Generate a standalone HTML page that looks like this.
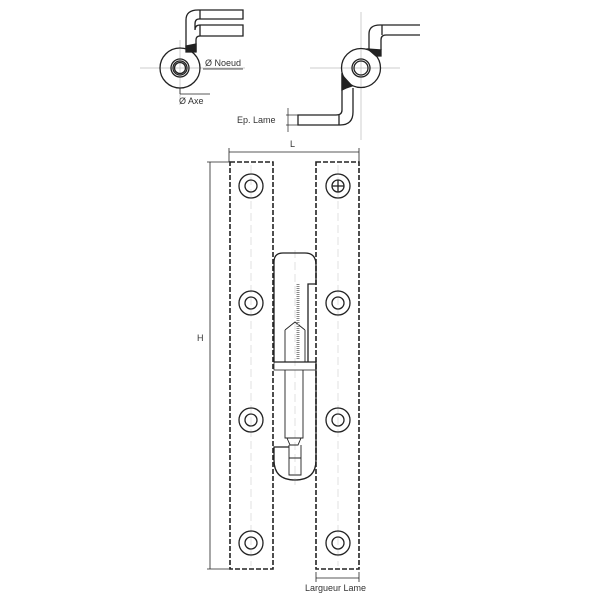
<!DOCTYPE html>
<html><head><style>body{margin:0;background:#fff}svg{display:block}text{font-family:"Liberation Sans",sans-serif;fill:#333}</style></head>
<body>
<svg width="600" height="600" viewBox="0 0 600 600" xmlns="http://www.w3.org/2000/svg">
<g fill="none" stroke="#222" stroke-width="1.3">
<!-- left top view -->
<line x1="140" y1="68" x2="245" y2="68" stroke="#bbb" stroke-width="0.7"/>
<line x1="180" y1="40" x2="180" y2="100" stroke="#bbb" stroke-width="0.7"/>
<circle cx="180" cy="68" r="20"/>
<circle cx="180" cy="68" r="9"/>
<circle cx="180" cy="68" r="7"/>
<circle cx="180" cy="68" r="5.5"/>
<path d="M186 48 L186 20 Q186 10 198 10 L243 10 L243 19 L199 19 Q195 19 195 24 L195 30 Q195 25 200 25 L243 25 L243 36 L200 36 Q196 36 196 40 L196 52"/>
<path d="M186 46 L186 52 L196 52 L196 44 Z" fill="#222"/>
<line x1="200" y1="10" x2="200" y2="19"/><line x1="200" y1="25" x2="200" y2="36"/>
<line x1="203" y1="69" x2="243" y2="69" stroke-width="0.8"/>
<line x1="180" y1="88" x2="180" y2="94" stroke-width="0.8"/>
<line x1="180" y1="94" x2="210" y2="94" stroke-width="0.8"/>
<!-- right top view -->
<line x1="310" y1="68" x2="400" y2="68" stroke="#bbb" stroke-width="0.7"/>
<line x1="361" y1="12" x2="361" y2="140" stroke="#bbb" stroke-width="0.7"/>
<circle cx="361" cy="68" r="19.5"/>
<circle cx="361" cy="68" r="9"/>
<circle cx="361" cy="68" r="7"/>
<path d="M369 50 L369 34 Q369 25 380 25 L420 25 M381 50 L381 40 Q381 35 386 35 L420 35 M382 25 L382 35"/>
<path d="M368 49 L381 50 L381 56 L376 56 Z" fill="#222"/>
<path d="M342 73 L342 110 Q342 115 336 115 L298 115 L298 125 L340 125 Q353 125 353 112 L353 88"/>
<path d="M342 75 L342 90 L346 88 L352 86 Z" fill="#222"/>
<line x1="339" y1="115" x2="339" y2="125"/>
<line x1="286" y1="115" x2="298" y2="115" stroke-width="0.7"/>
<line x1="286" y1="125" x2="298" y2="125" stroke-width="0.7"/>
<line x1="288" y1="108" x2="288" y2="132" stroke-width="0.7"/>
<!-- dimensions -->
<line x1="229" y1="148" x2="229" y2="162" stroke-width="0.8"/>
<line x1="359" y1="148" x2="359" y2="162" stroke-width="0.8"/>
<line x1="229" y1="152" x2="359" y2="152" stroke-width="0.8"/>
<line x1="207" y1="162" x2="230" y2="162" stroke-width="0.8"/>
<line x1="207" y1="569" x2="230" y2="569" stroke-width="0.8"/>
<line x1="210" y1="162" x2="210" y2="569" stroke-width="0.8"/>
<line x1="316" y1="572" x2="316" y2="582" stroke-width="0.8"/>
<line x1="359" y1="572" x2="359" y2="582" stroke-width="0.8"/>
<line x1="316" y1="578" x2="359" y2="578" stroke-width="0.8"/>
<!-- plates -->
<rect x="230" y="162" width="43" height="407" stroke-dasharray="5 2" stroke-width="1.6"/>
<rect x="316" y="162" width="43" height="407" stroke-dasharray="5 2" stroke-width="1.6"/>
<g stroke="#ccc" stroke-width="0.6" stroke-dasharray="8 4">
<line x1="251" y1="165" x2="251" y2="566"/><line x1="338" y1="165" x2="338" y2="566"/><line x1="295" y1="250" x2="295" y2="485"/>
</g>
<g>
<circle cx="251" cy="186" r="12"/><circle cx="251" cy="186" r="6"/>
<circle cx="338" cy="186" r="12"/><circle cx="338" cy="186" r="6"/>
<line x1="332" y1="186" x2="344" y2="186"/><line x1="338" y1="180" x2="338" y2="192"/>
<circle cx="251" cy="303" r="12"/><circle cx="251" cy="303" r="6"/>
<circle cx="338" cy="303" r="12"/><circle cx="338" cy="303" r="6"/>
<circle cx="251" cy="420" r="12"/><circle cx="251" cy="420" r="6"/>
<circle cx="338" cy="420" r="12"/><circle cx="338" cy="420" r="6"/>
<circle cx="251" cy="543" r="12"/><circle cx="251" cy="543" r="6"/>
<circle cx="338" cy="543" r="12"/><circle cx="338" cy="543" r="6"/>
</g>
<!-- knuckle -->
<path d="M274 362 L274 262 Q274 253 283 253 L305 253 Q316 253 316 265 L316 284 L308 284 L308 362"/>
<path d="M274 362 L316 362 L316 460 Q316 480 295 480 Q274 480 274 460 L274 447 L289 447"/>
<rect x="274" y="362" width="42" height="8" stroke-width="0.8"/>
<path d="M285 330 L285 362 M305 330 L305 362 M285 330 L295 322 L305 330" stroke-width="0.9"/>
<line x1="298" y1="284" x2="298" y2="360" stroke="#888" stroke-width="3" stroke-dasharray="1 1"/>
<path d="M285 370 L285 438 L303 438 L303 370 M287 438 L290 445 L298 445 L301 438 M289 445 L289 475 L301 475 L301 445 M289 458 L301 458" stroke-width="0.9"/>
</g>
<g font-size="9">
<text x="205" y="66">Ø Noeud</text>
<text x="179" y="104">Ø Axe</text>
<text x="237" y="123">Ep. Lame</text>
<text x="290" y="147">L</text>
<text x="197" y="341">H</text>
<text x="305" y="591">Largueur Lame</text>
</g>
</svg>
</body></html>
